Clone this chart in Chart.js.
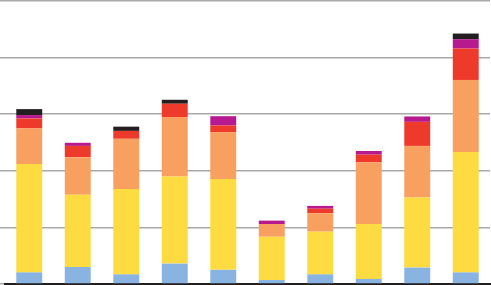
<!DOCTYPE html>
<html>
<head>
<meta charset="utf-8">
<script src="https://cdn.jsdelivr.net/npm/chart.js@4/dist/chart.umd.min.js"></script>
<style>
  html, body { margin: 0; padding: 0; background: #fff; }
  #wrap { width: 491px; height: 285px; }
</style>
</head>
<body>
<div id="wrap"><canvas id="grafico"></canvas></div>
<script>
const categories = ['1', '2', '3', '4', '5', '6', '7', '8', '9', '10'];
const blue    = [4.1, 6.0, 3.4, 7.2, 5.0, 1.4, 3.4, 1.8, 5.8, 4.1];
const yellow  = [38.3, 25.5, 30.2, 30.8, 32.1, 15.3, 15.1, 19.4, 24.8, 42.5];
const orange  = [12.6, 13.3, 17.7, 21.0, 16.5, 4.5, 6.5, 21.8, 18.2, 25.5];
const red     = [3.5, 4.0, 2.8, 4.7, 2.4, 0, 1.6, 2.7, 8.5, 11.1];
const magenta = [1.2, 1.1, 0, 0, 3.3, 1.2, 1.0, 1.3, 1.9, 3.3];
const black   = [2.1, 0, 1.5, 1.4, 0, 0, 0, 0, 0, 2.0];
const yTicks  = [0, 20, 40, 60, 80, 100];

function serie(values, color) {
    return {
        label: '',
        data: values,
        backgroundColor: color,
        borderWidth: 0,
        barPercentage: 0.535,
        categoryPercentage: 1.0
    };
}

let ctx = document.getElementById('grafico').getContext('2d');
new Chart(ctx, {
    type: 'bar',
    data: {
        labels: categories,
        datasets: [
            serie(blue, '#89b3e0'),
            serie(yellow, '#fedb41'),
            serie(orange, '#f7a05f'),
            serie(red, '#ee3a2a'),
            serie(magenta, '#b7198e'),
            serie(black, '#231f20')
        ]
    },
    options: {
        responsive: true,
        maintainAspectRatio: false,
        animation: false,
        layout: {
            padding: { left: 0, right: 1, top: 1, bottom: 1 }
        },
        plugins: {
            legend: false,
            tooltip: false
        },
        scales: {
            x: {
                stacked: true,
                ticks: { display: false },
                grid: { display: false, drawTicks: false },
                border: { display: true, color: '#231f20', width: 2 }
            },
            y: {
                stacked: true,
                min: 0,
                max: 100,
                afterBuildTicks: function(axis) {
                    axis.ticks = yTicks.map(v => ({ value: v }));
                },
                ticks: { display: false },
                grid: { color: '#a9a9a9', lineWidth: 1.5, tickLength: 5 },
                border: { display: false }
            }
        }
    }
});
</script>
</body>
</html>
